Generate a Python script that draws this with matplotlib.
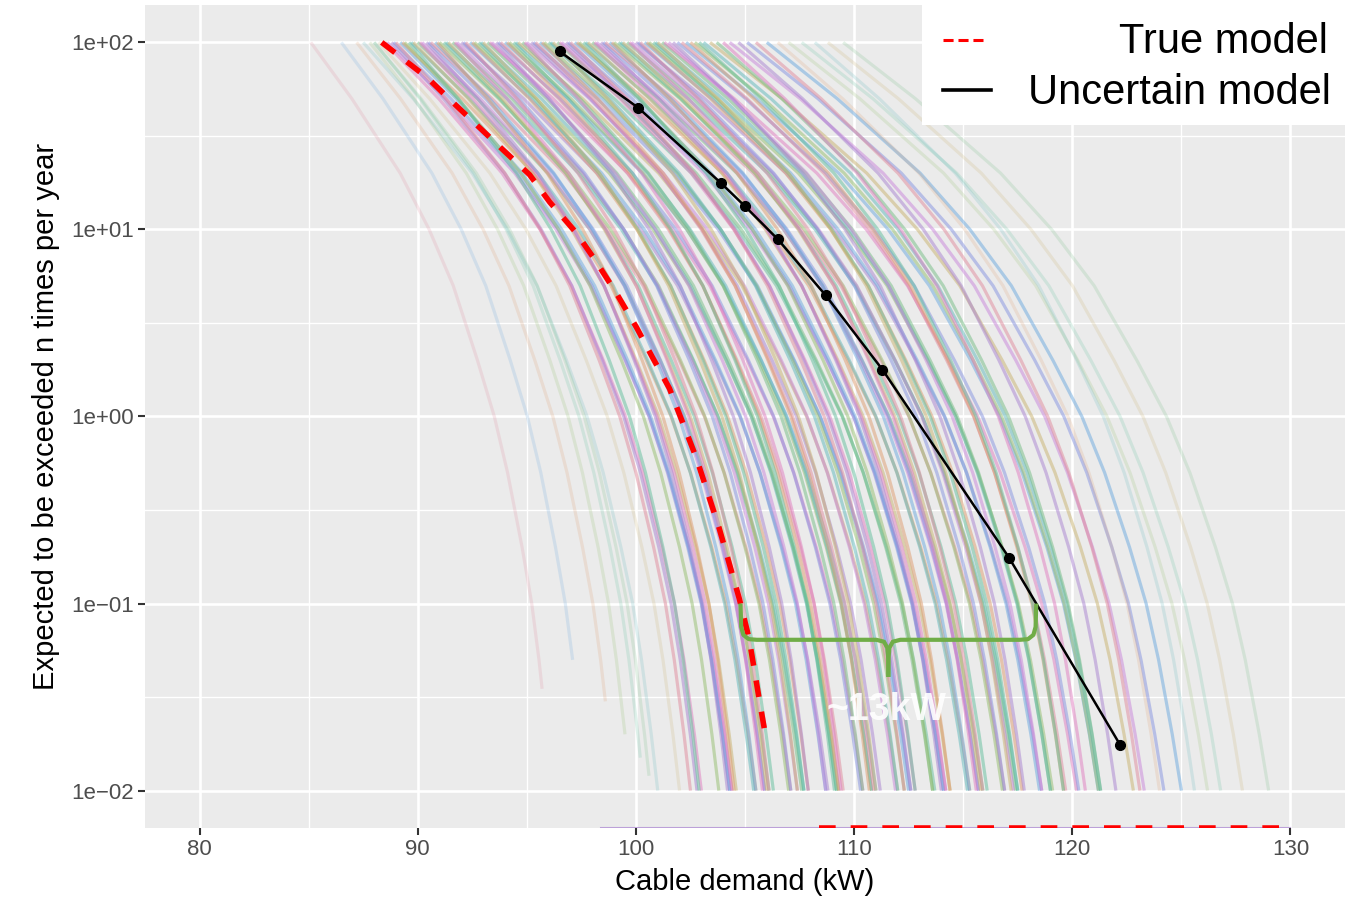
import numpy as np
import matplotlib.pyplot as plt
from matplotlib.patches import Rectangle
from matplotlib.lines import Line2D
from matplotlib.ticker import NullFormatter

plt.rcParams['font.family'] = ['Liberation Sans', 'DejaVu Sans']

# true model: demand (kW) vs expected exceedances per year
true_x = [88.35, 90.43, 91.48, 93.90, 95.13, 96.05, 97.28, 98.20, 99.11,
          100.03, 100.76, 101.54, 102.77, 103.82, 104.74, 105.19, 105.65, 105.97]
true_y = [100, 64.9, 49.4, 26.7, 19.6, 14.0, 9.55, 6.67, 4.55,
          2.99, 2.07, 1.41, 0.60, 0.252, 0.106, 0.0648, 0.0309, 0.0188]
true_zero_x = [108.4, 130]          # rate is 0 here, drawn on the panel edge

# uncertain model (black line with points)
unc_x = [96.5, 100.1, 103.9, 105.0, 106.5, 108.7, 111.3, 117.1, 122.2]
unc_y = [89.5, 44.8, 17.7, 13.3, 8.87, 4.44, 1.78, 0.176, 0.0175]

# common shape of the sampled curves (share of the x span reached at each rate)
shape_rate = [100, 50, 20, 10, 5, 2, 1, 0.5, 0.2, 0.1, 0.05, 0.02, 0.01]
shape_frac = [0, 0.17, 0.37, 0.49, 0.59, 0.69, 0.76, 0.815, 0.875, 0.915, 0.945, 0.978, 1.0]

# sampled curves: demand at 100/yr, demand at the lowest rate, lowest rate
sample_top = [
    85.1, 86.5, 87.2, 87.8, 88.0, 87.5, 88.2, 88.0,
    88.5, 88.6, 88.8, 88.9, 89.0, 89.2, 89.3, 89.4, 89.6, 89.7,
    89.8, 90.0, 90.1, 90.2, 90.4, 90.5, 90.6, 90.8, 90.9, 91.0,
    91.2, 91.3, 91.4, 91.6, 91.7, 91.8, 92.0, 92.1, 92.2, 92.4,
    92.5, 92.6, 92.8, 92.9, 93.0, 93.2, 93.3, 93.4, 93.6, 93.7,
    93.8, 94.0, 94.1, 94.2, 94.4, 94.5, 94.6, 94.8, 94.9, 95.0,
    95.2, 95.3, 95.4, 95.6, 95.7, 95.8, 96.0, 96.1, 96.2, 96.4,
    96.5, 96.6, 96.8, 96.9, 97.0, 97.2, 97.3, 97.4, 97.6, 97.7,
    97.8, 98.0, 98.1, 98.2, 98.4, 98.5, 98.6, 98.8, 98.9, 99.0,
    99.2, 99.3, 99.4, 99.6, 99.7, 99.8, 100.0, 100.1, 100.2, 100.4,
    100.5, 100.6, 100.8, 100.9, 101.0, 101.2, 101.3, 101.5, 101.7, 101.9,
    102.1, 102.3, 102.5, 102.7, 102.9, 103.1, 103.4, 103.7, 104.0, 104.3,
    104.7, 105.1, 105.5, 106.0, 106.5, 107.0, 107.6, 108.2, 108.8, 109.5]
sample_end = [
    95.7, 97.1, 98.6, 99.5, 100.2, 101.0, 102.0, 100.6,
    103.0, 104.4, 102.8, 104.3, 102.5, 104.3, 105.5, 103.8, 102.9, 105.4,
    104.6, 106.1, 104.4, 105.9, 104.2, 105.9, 107.1, 105.5, 104.5, 107.0,
    106.3, 107.7, 106.0, 107.6, 105.8, 107.4, 108.8, 107.1, 106.1, 108.7,
    107.9, 109.3, 107.7, 109.2, 107.4, 109.2, 110.4, 108.7, 107.9, 110.3,
    109.5, 111.0, 109.3, 110.8, 109.1, 110.8, 112.0, 110.4, 109.4, 111.9,
    111.2, 112.6, 110.9, 112.5, 110.7, 112.3, 113.7, 112.0, 111.0, 113.6,
    112.8, 114.2, 112.6, 114.1, 112.3, 114.1, 115.3, 113.6, 112.8, 115.2,
    114.4, 115.9, 114.2, 115.7, 114.0, 115.7, 116.9, 115.3, 114.4, 116.8,
    116.1, 117.5, 115.8, 117.4, 115.6, 117.3, 118.6, 116.9, 115.9, 118.5,
    117.7, 119.1, 117.5, 119.0, 117.2, 119.0, 120.2, 118.6, 117.8, 120.3,
    119.7, 121.2, 119.6, 121.2, 119.6, 121.3, 122.8, 121.3, 120.6, 123.3,
    122.0, 124.2, 123.1, 125.0, 124.0, 126.2, 126.8, 125.6, 127.8, 129.0]
sample_floor = [0.035, 0.05, 0.03, 0.02, 0.015, 0.01, 0.01, 0.012] + [0.01] * 120

# softened hue palette for the samples
hue = ['#E08A9C', '#5FB8BB', '#A982D0', '#95BE6E', '#E07CC0', '#6AA8DF',
       '#C9B26E', '#8592E0', '#62BF9C', '#C884DA', '#DE9C6E', '#74BD84']

fig = plt.figure(figsize=(13.53, 8.98), dpi=100)
ax = fig.add_axes([145 / 1353, 70 / 898, 1200 / 1353, 823 / 898])
ax.set_facecolor('#EBEBEB')
ax.set_yscale('log')

log_shape = np.log10(shape_rate)[::-1]
frac_rev = shape_frac[::-1]
for i, (top, end, floor) in enumerate(zip(sample_top, sample_end, sample_floor)):
    span = (end - top) / np.interp(np.log10(floor), log_shape, frac_rev)
    ys = [r for r in shape_rate if r > floor] + [floor]
    xs = [top + span * np.interp(np.log10(r), log_shape, frac_rev) for r in ys]
    faint = floor > 0.01 or top < 88.3 or top > 106
    ax.plot(xs, ys, color=hue[(i * 5) % len(hue)], lw=2.3,
            alpha=0.2 if faint else 0.5, zorder=2, solid_capstyle='butt')

# zero-rate stretches land on the lower panel edge
y_edge = 10 ** -2.2
ax.plot([98.4, 130], [y_edge, y_edge], color='#A982D0', lw=1.5, alpha=0.7, zorder=3)
ax.plot(true_zero_x, [y_edge, y_edge], color='red', lw=4, dashes=(3, 2.7), zorder=4)

ax.plot(true_x, true_y, color='red', lw=4, dashes=(3, 2.7), zorder=4)
ax.plot(unc_x, unc_y, color='black', lw=1.8, marker='o', markersize=7, zorder=5)

# brace between the two models at 0.1 per year
lx = np.interp(-1, np.log10(true_y)[::-1], true_x[::-1])
rx = np.interp(-1, np.log10(unc_y)[::-1], unc_x[::-1])
mx = (lx + rx) / 2
green = '#70AD47'
brace_y = [0.1, 0.075, 0.068, 0.0645, 0.064, 0.064, 0.0625, 0.058, 0.05, 0.0405]
ax.plot([lx, lx + 0.03, lx + 0.13, lx + 0.38, lx + 0.75, mx - 0.55, mx - 0.2, mx - 0.05, mx, mx],
        brace_y, color=green, lw=3, zorder=6, solid_capstyle='butt')
ax.plot([rx, rx - 0.03, rx - 0.13, rx - 0.38, rx - 0.75, mx + 0.55, mx + 0.2, mx + 0.05, mx, mx],
        brace_y, color=green, lw=3, zorder=6, solid_capstyle='butt')
ax.text(mx - 0.1, 0.027, '~%dkW' % int(rx - lx), color='white', alpha=0.9,
        fontsize=27, fontweight='bold', ha='center', va='center', zorder=7)

ax.set_xticks([80, 90, 100, 110, 120, 130])
ax.set_xticks([85, 95, 105, 115, 125], minor=True)
ax.set_yticks([0.01, 0.1, 1, 10, 100])
ax.set_yticklabels(['1e\u221202', '1e\u221201', '1e+00', '1e+01', '1e+02'])
ax.set_yticks([10 ** (k + 0.5) for k in range(-2, 2)], minor=True)
ax.yaxis.set_minor_formatter(NullFormatter())
ax.set_xlim(77.5, 132.5)
ax.set_ylim(10 ** -2.2, 10 ** 2.2)
ax.grid(which='major', color='white', lw=1.9)
ax.grid(which='minor', color='white', lw=1.0)
ax.set_axisbelow(True)
ax.tick_params(which='major', length=5, width=1.5, color='#333333',
               labelcolor='#4D4D4D', labelsize=16, pad=3)
ax.tick_params(which='minor', length=0)
for s in ax.spines.values():
    s.set_visible(False)

ax.set_xlabel('Cable demand (kW)', fontsize=21, labelpad=6)
ax.set_ylabel('Expected to be exceeded n times per year', fontsize=21, labelpad=8)

# legend box drawn on top of the panel
W, H = 1353, 898
fig.add_artist(Rectangle((922 / W, 1 - 125 / H), 431 / W, 125 / H,
                         transform=fig.transFigure, facecolor='white',
                         edgecolor='none', zorder=10))
fig.add_artist(Line2D([943 / W, 983 / W], [1 - 40 / H] * 2, color='red', lw=2.2,
                      dashes=(3.3, 1.6), transform=fig.transFigure, zorder=11))
fig.add_artist(Line2D([943 / W, 991 / W], [1 - 90 / H] * 2, color='black', lw=2.6,
                      transform=fig.transFigure, zorder=11))
fig.text(1328 / W, 1 - 53 / H, 'True model', fontsize=30, ha='right',
         va='baseline', zorder=12)
fig.text(1331 / W, 1 - 104 / H, 'Uncertain model', fontsize=30, ha='right',
         va='baseline', zorder=12)

fig.savefig('out.png', dpi=100)
